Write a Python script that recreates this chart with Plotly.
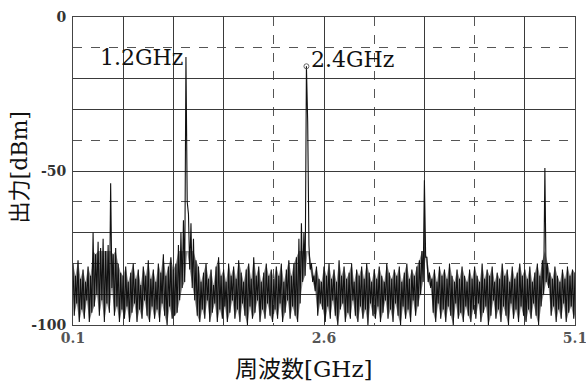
import plotly.graph_objects as go

# Spectrum analyzer sweep: 201 bins, 0.1 .. 5.1 GHz (step 0.025 GHz)
f_start, f_stop, n_bins = 0.1, 5.1, 201
freq = [round(f_start + i * (f_stop - f_start) / (n_bins - 1), 4) for i in range(n_bins)]

# per-bin maximum level [dBm]
level_max = [
    -80, -84, -79, -85, -82, -86, -81, -84, -70, -77, -73, -75, -72, -76, -74, -54, -77, -75, -80, -83,
    -84, -81, -86, -83, -80, -85, -82, -87, -81, -84, -79, -85, -82, -86, -80, -83, -77, -84, -81, -78,
    -82, -80, -74, -70, -66, -13, -64, -67, -72, -79, -81, -86, -83, -80, -85, -82, -87, -81, -78, -84,
    -82, -86, -80, -84, -81, -85, -79, -83, -86, -82, -80, -85, -78, -84, -81, -86, -83, -80, -84, -82,
    -85, -81, -84, -80, -86, -82, -79, -84, -80, -78, -72, -67, -70, -16, -74, -80, -84, -81, -85, -86,
    -81, -84, -80, -85, -82, -86, -79, -84, -81, -85, -83, -80, -86, -82, -84, -81, -85, -80, -83, -86,
    -82, -85, -81, -84, -86, -80, -83, -85, -82, -84, -81, -86, -83, -80, -85, -82, -84, -81, -79, -76,
    -53, -78, -83, -85, -82, -86, -81, -84, -82, -85, -80, -84, -86, -82, -85, -81, -84, -86, -82, -85,
    -81, -84, -86, -80, -85, -82, -84, -81, -86, -83, -85, -80, -84, -82, -86, -81, -85, -83, -80, -84,
    -82, -85, -81, -86, -83, -80, -84, -79, -49, -80, -83, -85, -81, -84, -86, -82, -85, -81, -84, -82,
    -83,
]

# per-bin minimum level [dBm]
level_min = [
    -97, -93, -99, -95, -98, -92, -99, -96, -94, -90, -97, -92, -99, -93, -96, -88, -97, -94, -99, -95,
    -98, -94, -99, -96, -93, -99, -95, -98, -92, -97, -99, -94, -98, -95, -99, -93, -97, -100, -94, -98,
    -97, -96, -92, -88, -86, -60, -82, -88, -92, -97, -99, -95, -98, -92, -99, -96, -93, -99, -95, -98,
    -94, -99, -96, -92, -98, -95, -99, -93, -97, -100, -94, -98, -96, -92, -99, -95, -98, -93, -97, -99,
    -95, -98, -93, -99, -96, -92, -98, -94, -97, -99, -93, -86, -84, -34, -82, -86, -89, -97, -93, -95,
    -99, -94, -98, -92, -97, -100, -95, -93, -99, -96, -98, -92, -97, -99, -94, -98, -95, -100, -93, -97,
    -98, -94, -99, -96, -92, -98, -95, -99, -93, -97, -100, -94, -98, -95, -99, -92, -97, -94, -90, -86,
    -78, -86, -88, -96, -99, -93, -98, -95, -99, -94, -97, -100, -93, -98, -96, -99, -94, -97, -99, -95,
    -98, -93, -99, -96, -94, -100, -97, -92, -98, -95, -99, -94, -97, -100, -93, -98, -95, -99, -94, -97,
    -99, -95, -98, -93, -97, -100, -94, -90, -86, -88, -97, -94, -99, -95, -98, -93, -99, -96, -94, -98,
    -95,
]

# labelled carriers (bin index of each carrier peak in the sweep)
carrier_labels = ["1.2GHz", "2.4GHz"]
carrier_bin = [45, 93]

x_ticks = [0.1, 0.6, 1.1, 1.6, 2.6, 3.6, 4.6, 5.1]
x_ticktext = ["0.1", "", "", "", "2.6", "", "", "5.1"]
x_minor = [2.1, 3.1, 4.1]
y_ticks = [-100, -90, -70, -50, -30, -20, 0]
y_ticktext = ["-100", "", "", "-50", "", "", "0"]
y_minor = [-80, -60, -40, -10]
noise_ceiling = -76  # top of the dense noise floor shading

# build the peak/min-detect trace: max and min of each bin in turn
half = (f_stop - f_start) / (n_bins - 1) / 2
trace_x, trace_y = [], []
for f, hi, lo in zip(freq, level_max, level_min):
    trace_x += [f, f + half]
    trace_y += [hi, lo]

# shaded noise floor between the max and min envelopes (kept below the ceiling)
band_hi = [min(h, noise_ceiling) for h in level_max]
band_lo = [min(l, b) for l, b in zip(level_min, band_hi)]
band_x = freq + [f + half for f in freq[::-1]]
band_y = band_hi + band_lo[::-1]

fig = go.Figure()
fig.add_trace(go.Scatter(x=band_x, y=band_y, mode="lines", fill="toself",
                         fillcolor="rgba(25,25,25,0.5)", line=dict(width=0),
                         hoverinfo="skip", showlegend=False))
fig.add_trace(go.Scatter(x=trace_x, y=trace_y, mode="lines",
                         line=dict(color="#111", width=1.1), hoverinfo="skip",
                         showlegend=False))
cx = [freq[i] for i in carrier_bin]
cy = [level_max[i] for i in carrier_bin]
fig.add_trace(go.Scatter(x=[cx[1]], y=[cy[1]], mode="markers",
                         marker=dict(symbol="circle-open", size=5, color="#666",
                                     line=dict(width=1)),
                         showlegend=False))

serif = "DejaVu Serif, Noto Sans CJK JP, serif"
fig.add_annotation(x=cx[0], y=cy[0], text=carrier_labels[0],
                   showarrow=False, xanchor="right", yanchor="middle", xshift=-1, yshift=0,
                   font=dict(family=serif, size=22, color="#111"))
fig.add_annotation(x=cx[1], y=cy[1], text=carrier_labels[1],
                   showarrow=False, xanchor="left", yanchor="middle", xshift=3, yshift=7,
                   font=dict(family=serif, size=22, color="#111"))

# axis titles
fig.add_annotation(x=0.46, y=-0.095, xref="paper", yref="paper", text="周波数[GHz]",
                   showarrow=False, xanchor="center", yanchor="top",
                   font=dict(family=serif, size=23, color="#111"))
fig.add_annotation(x=-0.106, y=0.511, xref="paper", yref="paper", text="出力[dBm]",
                   showarrow=False, textangle=-90, xanchor="center", yanchor="middle",
                   font=dict(family=serif, size=22, color="#111"))

fig.update_layout(
    width=586, height=383,
    margin=dict(l=73, r=11, t=17, b=58, autoexpand=False),
    paper_bgcolor="white", plot_bgcolor="white",
    showlegend=False,
)
fig.update_xaxes(
    range=[f_start, f_stop], tickmode="array", tickvals=x_ticks, ticktext=x_ticktext,
    showgrid=True, gridcolor="#3a3a3a", gridwidth=1,
    minor=dict(tickmode="array", tickvals=x_minor, showgrid=True, gridcolor="#555",
               griddash="dash", gridwidth=1),
    showline=True, mirror=True, linecolor="#444", linewidth=1, ticks="",
    zeroline=False, ticklabeloverflow="allow", automargin=False,
    tickfont=dict(family="DejaVu Serif, serif", size=14, color="#555", weight="bold"),
)
fig.update_yaxes(
    range=[-100, 0], tickmode="array", tickvals=y_ticks, ticktext=y_ticktext,
    showgrid=True, gridcolor="#3a3a3a", gridwidth=1,
    minor=dict(tickmode="array", tickvals=y_minor, showgrid=True, gridcolor="#555",
               griddash="dash", gridwidth=1),
    showline=True, mirror=True, linecolor="#444", linewidth=1, ticks="",
    zeroline=False, ticklabelstandoff=3, automargin=False,
    tickfont=dict(family="DejaVu Serif, serif", size=14, color="#333", weight="bold"),
)

fig.write_html("out.html")
